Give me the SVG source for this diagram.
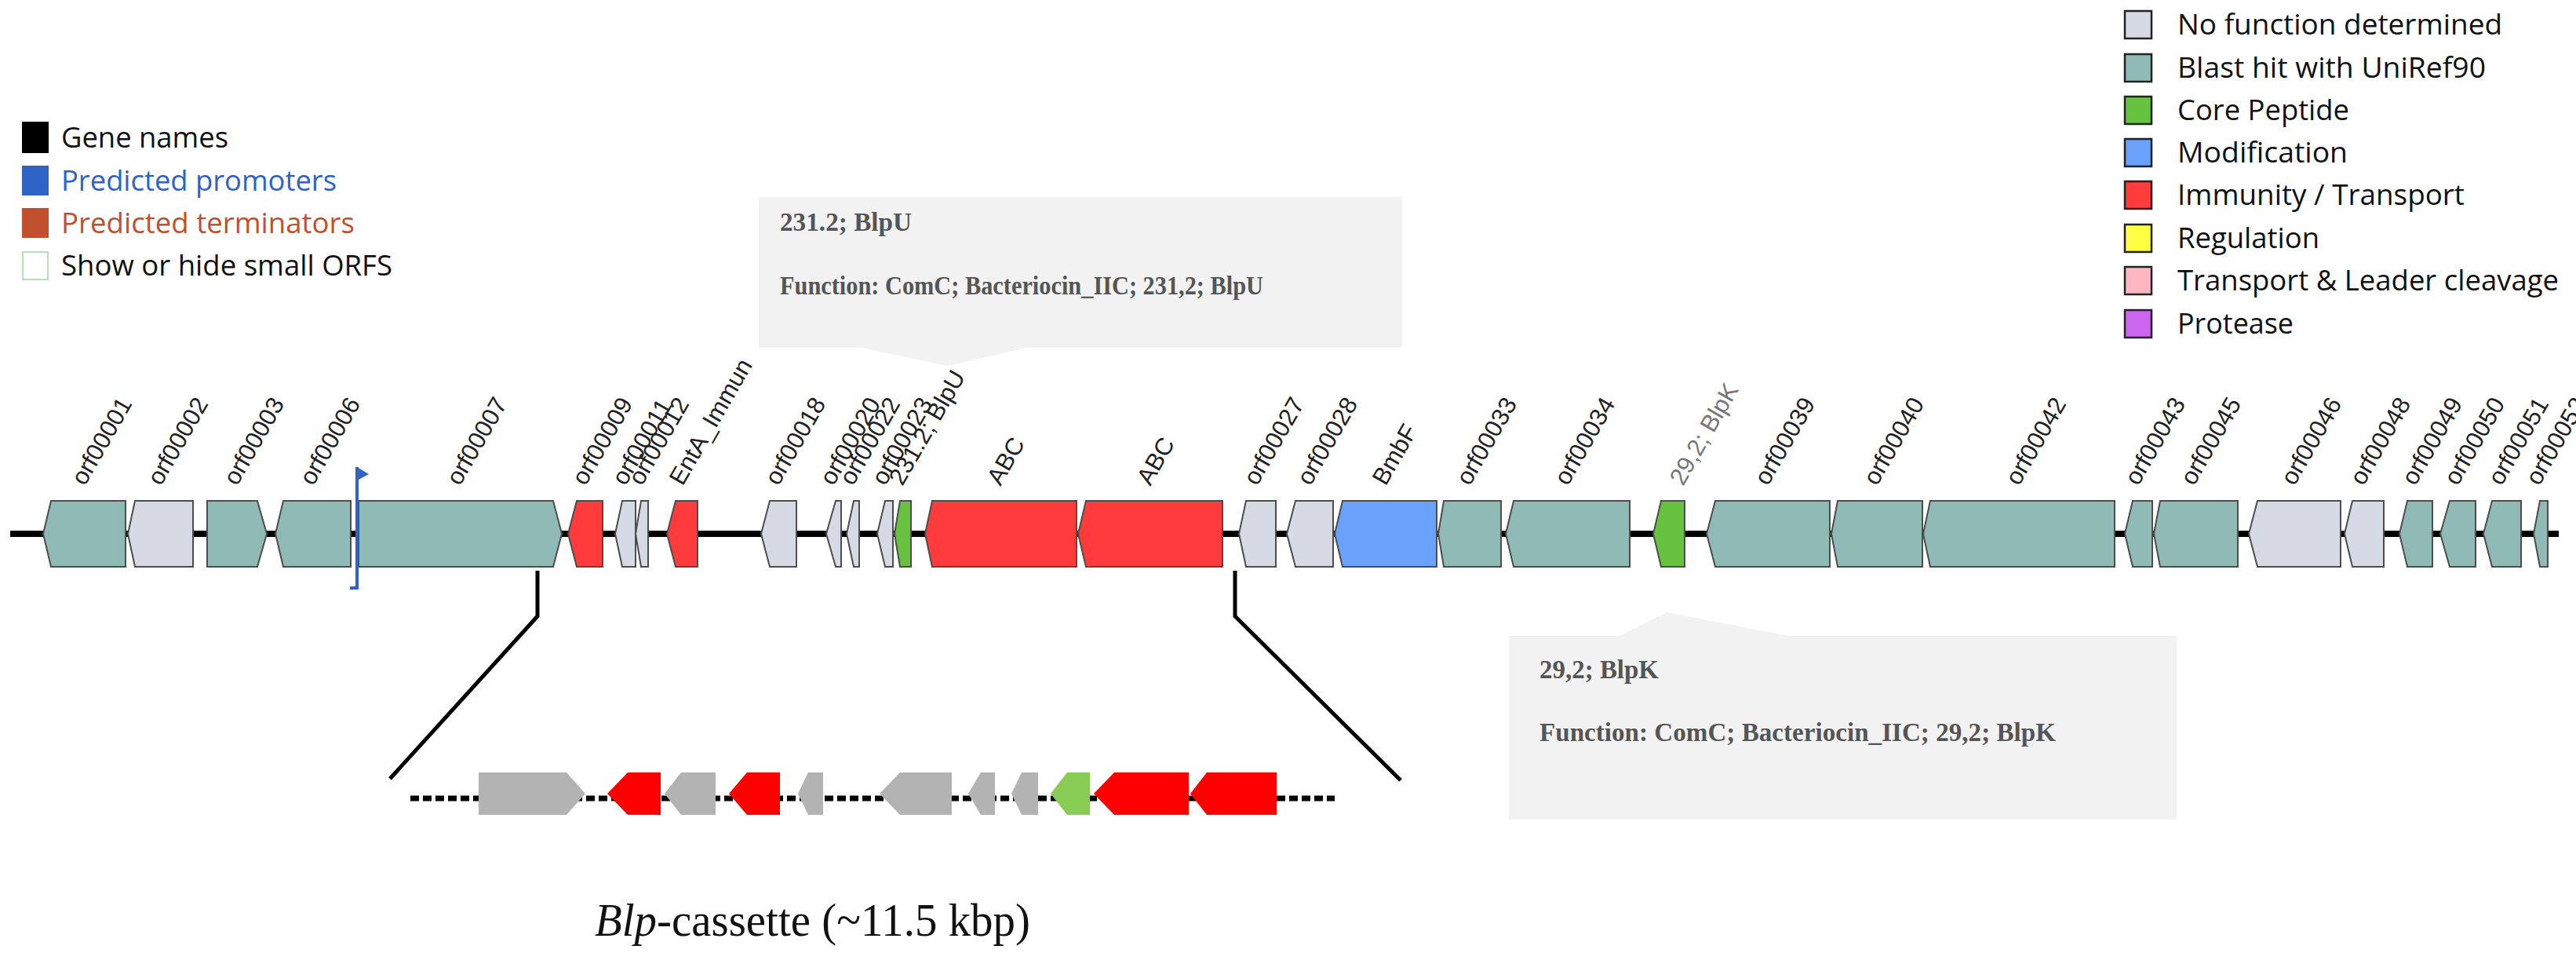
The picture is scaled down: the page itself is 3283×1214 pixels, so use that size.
<svg xmlns="http://www.w3.org/2000/svg" width="3283" height="1214" viewBox="0 0 3283 1214">
<style>
.g{stroke:#4d4d4d;stroke-width:2;stroke-linejoin:miter}
.nf{fill:#d5dae5}.bh{fill:#8fbab5}.cp{fill:#66c23f}.mod{fill:#6aa1fb}.imm{fill:#ff3b3b}
.lbl{font-family:"Liberation Sans",Arial,sans-serif;font-size:31px;fill:#222}
.leg{font-family:"Open Sans","Noto Sans",sans-serif;font-size:37px;fill:#111}
.tt{font-family:"Liberation Serif","Times New Roman",serif;font-weight:bold;font-size:33px;fill:#555}
.cg{fill:#b3b3b3}.cr{fill:#ff0000}.cgr{fill:#88cc55}
.zl{fill:none;stroke:#000;stroke-width:5}
</style>
<rect width="3283" height="1214" fill="#fff"/>
<g id="legend-left">
<rect x="28" y="155" width="34" height="40" fill="#000"/>
<text class="leg" x="78" y="188" textLength="213" lengthAdjust="spacingAndGlyphs">Gene names</text>
<rect x="28" y="211" width="34" height="38" fill="#2f63c4"/>
<text class="leg" x="78" y="243" textLength="351" lengthAdjust="spacingAndGlyphs" style="fill:#2f63c4">Predicted promoters</text>
<rect x="28" y="265" width="34" height="38" fill="#c0502e"/>
<text class="leg" x="78" y="297" textLength="374" lengthAdjust="spacingAndGlyphs" style="fill:#c0502e">Predicted terminators</text>
<rect x="29" y="321" width="32" height="35" fill="#fff" stroke="#b7e0b7" stroke-width="2"/>
<text class="leg" x="78" y="351" textLength="422" lengthAdjust="spacingAndGlyphs">Show or hide small ORFS</text>
</g>
<g id="legend-right" stroke="#222" stroke-width="2.5">
<rect x="2708" y="14" width="34" height="35" fill="#d5dae5"/>
<rect x="2708" y="69" width="34" height="35" fill="#8fbab5"/>
<rect x="2708" y="123" width="34" height="35" fill="#66c23f"/>
<rect x="2708" y="177" width="34" height="35" fill="#6aa1fb"/>
<rect x="2708" y="231" width="34" height="35" fill="#ff3b3b"/>
<rect x="2708" y="286" width="34" height="35" fill="#ffff44"/>
<rect x="2708" y="340" width="34" height="35" fill="#ffb6c1"/>
<rect x="2708" y="395" width="34" height="35" fill="#cc66ee"/>
<g stroke="none">
<text class="leg" x="2775" y="44" textLength="414" lengthAdjust="spacingAndGlyphs">No function determined</text>
<text class="leg" x="2775" y="99" textLength="393" lengthAdjust="spacingAndGlyphs">Blast hit with UniRef90</text>
<text class="leg" x="2775" y="153" textLength="219" lengthAdjust="spacingAndGlyphs">Core Peptide</text>
<text class="leg" x="2775" y="207" textLength="217" lengthAdjust="spacingAndGlyphs">Modification</text>
<text class="leg" x="2775" y="261" textLength="366" lengthAdjust="spacingAndGlyphs">Immunity / Transport</text>
<text class="leg" x="2775" y="316" textLength="181" lengthAdjust="spacingAndGlyphs">Regulation</text>
<text class="leg" x="2775" y="370" textLength="486" lengthAdjust="spacingAndGlyphs">Transport &amp; Leader cleavage</text>
<text class="leg" x="2775" y="425" textLength="148" lengthAdjust="spacingAndGlyphs">Protease</text>
</g>
</g>
<g id="connectors">
<line x1="13" y1="680" x2="3261" y2="680" stroke="#000" stroke-width="8"/>
<polyline class="zl" points="685,727 685,785 497,992"/>
<polyline class="zl" points="1574,727 1574,785 1785,994"/>
<line x1="523" y1="1017" x2="1701" y2="1017" stroke="#000" stroke-width="7" stroke-dasharray="11,5"/>
</g>
<g id="tooltip1">
<path d="M967,251 H1787 V443 H1307 L1208,466 L1098,443 H967 Z" fill="#f2f2f2"/>
<text class="tt" x="994" y="294" textLength="168" lengthAdjust="spacingAndGlyphs">231.2; BlpU</text>
<text class="tt" x="994" y="375" textLength="616" lengthAdjust="spacingAndGlyphs">Function: ComC; Bacteriocin_IIC; 231,2; BlpU</text>
</g>
<g id="tooltip2">
<path d="M1923,810 H2064 L2124,780 L2279,810 H2774 V1044 H1923 Z" fill="#f2f2f2"/>
<text class="tt" x="1962" y="864" textLength="152" lengthAdjust="spacingAndGlyphs">29,2; BlpK</text>
<text class="tt" x="1962" y="944" textLength="658" lengthAdjust="spacingAndGlyphs">Function: ComC; Bacteriocin_IIC; 29,2; BlpK</text>
</g>
<g id="genes">
<g id="g1"><polygon class="g bh" points="55,680 65,638 160,638 160,722 65,722"/><text class="lbl" transform="translate(108,620) rotate(-60)">orf00001</text></g>
<g id="g2"><polygon class="g nf" points="163,680 172,638 246,638 246,722 172,722"/><text class="lbl" transform="translate(205,620) rotate(-60)">orf00002</text></g>
<g id="g3"><polygon class="g bh" points="264,638 328,638 340,680 328,722 264,722"/><text class="lbl" transform="translate(302,620) rotate(-60)">orf00003</text></g>
<g id="g4"><polygon class="g bh" points="351,680 361,638 447,638 447,722 361,722"/><text class="lbl" transform="translate(399,620) rotate(-60)">orf00006</text></g>
<g id="g5"><polygon class="g bh" points="457,638 705,638 716,680 705,722 457,722"/><text class="lbl" transform="translate(586,620) rotate(-60)">orf00007</text></g>
<g id="g6"><polygon class="g imm" points="724,680 735,638 768,638 768,722 735,722"/><text class="lbl" transform="translate(746,620) rotate(-60)">orf00009</text></g>
<g id="g7"><polygon class="g nf" points="784,680 793,638 810,638 810,722 793,722"/><text class="lbl" transform="translate(797,620) rotate(-60)">orf00011</text></g>
<g id="g8"><polygon class="g nf" points="810,680 817,638 826,638 826,722 817,722"/><text class="lbl" transform="translate(818,620) rotate(-60)">orf00012</text></g>
<g id="g9"><polygon class="g imm" points="850,680 861,638 889,638 889,722 861,722"/><text class="lbl" transform="translate(870,620) rotate(-60)">EntA_Immun</text></g>
<g id="g10"><polygon class="g nf" points="970,680 981,638 1015,638 1015,722 981,722"/><text class="lbl" transform="translate(992,620) rotate(-60)">orf00018</text></g>
<g id="g11"><polygon class="g nf" points="1053,680 1065,638 1072,638 1072,722 1065,722"/><text class="lbl" transform="translate(1062,620) rotate(-60)">orf00020</text></g>
<g id="g12"><polygon class="g nf" points="1079,680 1088,638 1095,638 1095,722 1088,722"/><text class="lbl" transform="translate(1087,620) rotate(-60)">orf00022</text></g>
<g id="g13"><polygon class="g nf" points="1118,680 1128,638 1138,638 1138,722 1128,722"/><text class="lbl" transform="translate(1128,620) rotate(-60)">orf00023</text></g>
<g id="g14"><polygon class="g cp" points="1140,680 1147,638 1161,638 1161,722 1147,722"/><text class="lbl" transform="translate(1150,620) rotate(-60)">231.2; BlpU</text></g>
<g id="g15"><polygon class="g imm" points="1179,680 1188,638 1372,638 1372,722 1188,722"/><text class="lbl" transform="translate(1275,620) rotate(-60)">ABC</text></g>
<g id="g16"><polygon class="g imm" points="1374,680 1384,638 1558,638 1558,722 1384,722"/><text class="lbl" transform="translate(1466,620) rotate(-60)">ABC</text></g>
<g id="g17"><polygon class="g nf" points="1579,680 1588,638 1626,638 1626,722 1588,722"/><text class="lbl" transform="translate(1602,620) rotate(-60)">orf00027</text></g>
<g id="g18"><polygon class="g nf" points="1640,680 1651,638 1699,638 1699,722 1651,722"/><text class="lbl" transform="translate(1670,620) rotate(-60)">orf00028</text></g>
<g id="g19"><polygon class="g mod" points="1701,680 1711,638 1831,638 1831,722 1711,722"/><text class="lbl" transform="translate(1766,620) rotate(-60)">BmbF</text></g>
<g id="g20"><polygon class="g bh" points="1833,680 1840,638 1913,638 1913,722 1840,722"/><text class="lbl" transform="translate(1873,620) rotate(-60)">orf00033</text></g>
<g id="g21"><polygon class="g bh" points="1919,680 1929,638 2077,638 2077,722 1929,722"/><text class="lbl" transform="translate(1998,620) rotate(-60)">orf00034</text></g>
<g id="g22"><polygon class="g cp" points="2107,680 2117,638 2147,638 2147,722 2117,722"/><text class="lbl" transform="translate(2145,620) rotate(-60)" style="fill:#777">29,2; BlpK</text></g>
<g id="g23"><polygon class="g bh" points="2175,680 2186,638 2332,638 2332,722 2186,722"/><text class="lbl" transform="translate(2253,620) rotate(-60)">orf00039</text></g>
<g id="g24"><polygon class="g bh" points="2334,680 2342,638 2450,638 2450,722 2342,722"/><text class="lbl" transform="translate(2392,620) rotate(-60)">orf00040</text></g>
<g id="g25"><polygon class="g bh" points="2451,680 2460,638 2695,638 2695,722 2460,722"/><text class="lbl" transform="translate(2573,620) rotate(-60)">orf00042</text></g>
<g id="g26"><polygon class="g bh" points="2708,680 2718,638 2743,638 2743,722 2718,722"/><text class="lbl" transform="translate(2725,620) rotate(-60)">orf00043</text></g>
<g id="g27"><polygon class="g bh" points="2745,680 2753,638 2852,638 2852,722 2753,722"/><text class="lbl" transform="translate(2796,620) rotate(-60)">orf00045</text></g>
<g id="g28"><polygon class="g nf" points="2866,680 2877,638 2983,638 2983,722 2877,722"/><text class="lbl" transform="translate(2924,620) rotate(-60)">orf00046</text></g>
<g id="g29"><polygon class="g nf" points="2988,680 2998,638 3038,638 3038,722 2998,722"/><text class="lbl" transform="translate(3012,620) rotate(-60)">orf00048</text></g>
<g id="g30"><polygon class="g bh" points="3058,680 3068,638 3100,638 3100,722 3068,722"/><text class="lbl" transform="translate(3078,620) rotate(-60)">orf00049</text></g>
<g id="g31"><polygon class="g bh" points="3110,680 3122,638 3155,638 3155,722 3122,722"/><text class="lbl" transform="translate(3132,620) rotate(-60)">orf00050</text></g>
<g id="g32"><polygon class="g bh" points="3165,680 3176,638 3213,638 3213,722 3176,722"/><text class="lbl" transform="translate(3188,620) rotate(-60)">orf00051</text></g>
<g id="g33"><polygon class="g bh" points="3229,680 3237,638 3247,638 3247,722 3237,722"/><text class="lbl" transform="translate(3236,620) rotate(-60)">orf00052</text></g>
</g>
<g id="promoter">
<line x1="455" y1="595" x2="455" y2="750" stroke="#2f63c4" stroke-width="4"/>
<polygon points="455,595 470,604 455,612" fill="#2f63c4"/>
<line x1="446" y1="749" x2="457" y2="749" stroke="#2f63c4" stroke-width="4"/>
</g>
<g id="cassette" stroke-linejoin="round">
<polygon class="cg" points="610,984 722,984 746,1011 722,1038 610,1038"/>
<polygon class="cr" points="774,1011 800,984 842,984 842,1038 800,1038"/>
<polygon class="cg" points="847,1011 868,984 912,984 912,1038 868,1038"/>
<polygon class="cr" points="929,1011 952,984 994,984 994,1038 952,1038"/>
<polygon class="cg" points="1017,1011 1030,984 1049,984 1049,1038 1030,1038"/>
<polygon class="cg" points="1121,1011 1147,984 1213,984 1213,1038 1147,1038"/>
<polygon class="cg" points="1234,1011 1250,984 1268,984 1268,1038 1250,1038"/>
<polygon class="cg" points="1289,1011 1302,984 1323,984 1323,1038 1302,1038"/>
<polygon class="cgr" points="1339,1011 1360,984 1389,984 1389,1038 1360,1038"/>
<polygon class="cr" points="1394,1011 1420,984 1515,984 1515,1038 1420,1038"/>
<polygon class="cr" points="1517,1011 1538,984 1627,984 1627,1038 1538,1038"/>
</g>
<text x="758" y="1192" font-family="'Liberation Serif','Times New Roman',serif" font-size="60" fill="#111" textLength="555" lengthAdjust="spacingAndGlyphs"><tspan font-style="italic">Blp</tspan>-cassette (~11.5 kbp)</text>
</svg>
